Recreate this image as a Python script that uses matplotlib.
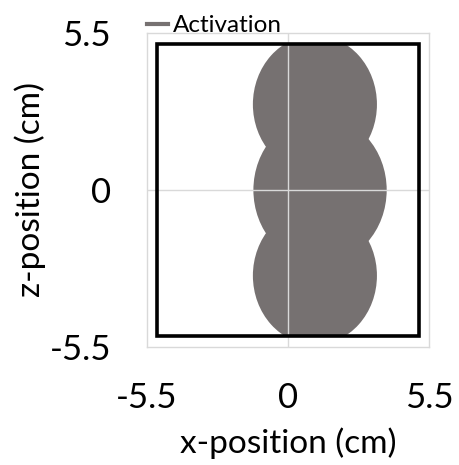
import matplotlib.pyplot as plt
from matplotlib.patches import Circle, Rectangle

plt.rcParams['font.family'] = ['Lato', 'DejaVu Sans']

# activation regions (cm): centres and radii
centre_x = [1.05, 1.25, 1.05]
centre_z = [3.0, 0.0, -3.0]
radius = [2.42, 2.6, 2.42]

# array boundary half-width (cm)
half_w = 5.1
lim = 5.5
ticks = [-5.5, 0, 5.5]
tick_labels = ['-5.5', '0', '5.5']

gray = '#767171'

fig = plt.figure(figsize=(4.59, 4.65), dpi=100)
ax = fig.add_axes([0.3203, 0.2538, 0.6143, 0.6752])

box = Rectangle((-half_w, -half_w), 2 * half_w, 2 * half_w, fill=False,
                edgecolor='black', linewidth=2.6, zorder=4)
ax.add_patch(box)

for cx, cz, r in zip(centre_x, centre_z, radius):
    c = Circle((cx, cz), r, facecolor=gray, edgecolor='none', zorder=2)
    ax.add_patch(c)
    c.set_clip_path(box)

ax.plot([], [], color=gray, linewidth=3, label='Activation')

ax.axhline(0, color='#d9d9d9', linewidth=1, zorder=3)
ax.axvline(0, color='#d9d9d9', linewidth=1, zorder=3)

ax.set_xlim(-lim, lim)
ax.set_ylim(-lim, lim)
ax.set_xticks(ticks)
ax.set_xticklabels(tick_labels)
ax.set_yticks(ticks)
ax.set_yticklabels(tick_labels)
ax.tick_params(length=0, labelsize=25)
ax.tick_params(axis='x', pad=25)
ax.tick_params(axis='y', pad=26)
for s in ax.spines.values():
    s.set_color('#d9d9d9')
    s.set_linewidth(1)

ax.set_xlabel('x-position (cm)', fontsize=24, labelpad=10)
ax.set_ylabel('z-position (cm)', fontsize=24)
ax.yaxis.set_label_coords(-0.36, 0.5)

ax.legend(loc='lower left', bbox_to_anchor=(0, 0.99), frameon=False,
          borderaxespad=0, borderpad=0, handlelength=0.85, handletextpad=0.2,
          fontsize=17.5)

fig.savefig('out.png')
